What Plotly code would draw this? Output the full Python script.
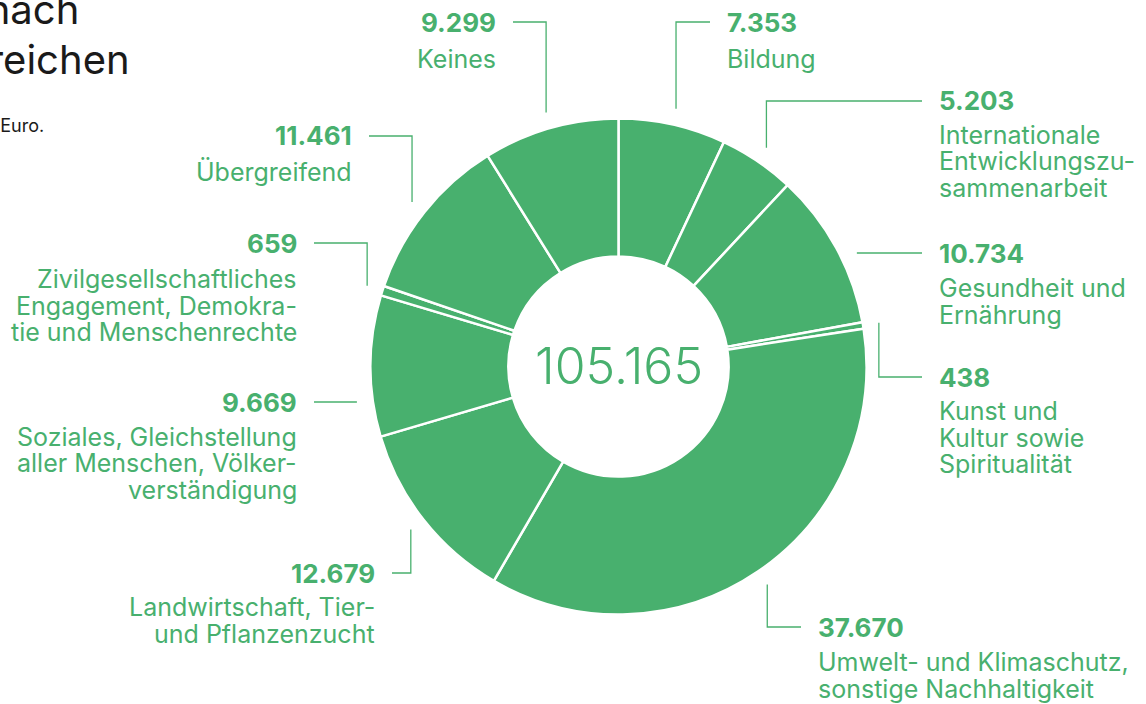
import math
import plotly.graph_objects as go

# ---------------- data ----------------
categories = [
    "Bildung",
    "Internationale Entwicklungszusammenarbeit",
    "Gesundheit und Ernährung",
    "Kunst und Kultur sowie Spiritualität",
    "Umwelt- und Klimaschutz, sonstige Nachhaltigkeit",
    "Landwirtschaft, Tier- und Pflanzenzucht",
    "Soziales, Gleichstellung aller Menschen, Völkerverständigung",
    "Zivilgesellschaftliches Engagement, Demokratie und Menschenrechte",
    "Übergreifend",
    "Keines",
]
values = [7353, 5203, 10734, 438, 37670, 12679, 9669, 659, 11461, 9299]
display_names = [
    ["Bildung"],
    ["Internationale", "Entwicklungszu-", "sammenarbeit"],
    ["Gesundheit und", "Ernährung"],
    ["Kunst und", "Kultur sowie", "Spiritualität"],
    ["Umwelt- und Klimaschutz,", "sonstige Nachhaltigkeit"],
    ["Landwirtschaft, Tier-", "und Pflanzenzucht"],
    ["Soziales, Gleichstellung", "aller Menschen, Völker-", "verständigung"],
    ["Zivilgesellschaftliches", "Engagement, Demokra-", "tie und Menschenrechte"],
    ["Übergreifend"],
    ["Keines"],
]
title_lines = ["Fördersumme nach", "Förderbereichen"]
subtitle = "Angaben in Tausend Euro."


def fmt(v):
    return f"{v:,}".replace(",", ".")


# ---------------- layout constants ----------------
W, H = 1146, 704
GREEN = "#48b06e"
DARK = "#1a1a1a"
FONT = "Inter"
CX, CY, R = 618.5, 366.5, 248.0
HOLE = 0.444
RL = 264.0      # leader start radius
GAP = 16        # gap between leader end and label
LINE_H = 26.5   # line spacing of the category names

# per-label layout: side, text x, number y, first name line y, leader type
label_layout = [
    dict(side="r", x=726, ny=22, my=59, kind="v"),
    dict(side="r", x=938, ny=101, my=135, kind="v"),
    dict(side="r", x=938, ny=253, my=288, kind="h"),
    dict(side="r", x=938, ny=377, my=411, kind="v"),
    dict(side="r", x=817, ny=627, my=662, kind="v"),
    dict(side="l", x=376, ny=573, my=607, kind="v"),
    dict(side="l", x=298, ny=402, my=437, kind="h"),
    dict(side="l", x=298, ny=243, my=279, kind="v"),
    dict(side="l", x=353, ny=136, my=172, kind="v"),
    dict(side="l", x=497, ny=22, my=59, kind="v"),
]


def px(x):
    return x / W


def py(y):
    return 1 - y / H


fig = go.Figure()
fig.add_trace(
    go.Pie(
        labels=categories,
        values=values,
        sort=False,
        direction="clockwise",
        rotation=0,
        hole=HOLE,
        textinfo="none",
        hoverinfo="label+value",
        marker=dict(colors=[GREEN] * len(values), line=dict(color="white", width=2.5)),
        domain=dict(x=[px(CX - R), px(CX + R)], y=[py(CY + R), py(CY - R)]),
        showlegend=False,
    )
)

total = sum(values)
annotations = []
shapes = []
cum = 0
for v, name_lines, lay in zip(values, display_names, label_layout):
    mid = (cum + v / 2) / total * 2 * math.pi
    cum += v
    sx = CX + RL * math.sin(mid)
    sy = CY - RL * math.cos(mid)
    if lay["side"] == "r":
        endx = lay["x"] - GAP
        xanchor = "left"
    else:
        endx = lay["x"] + GAP
        xanchor = "right"
    y = lay["ny"]
    if lay["kind"] == "v":
        path = f"M {px(sx)},{py(sy)} L {px(sx)},{py(y)} L {px(endx)},{py(y)}"
    else:
        dx = math.sqrt(max(RL ** 2 - (y - CY) ** 2, 0))
        startx = CX + dx if lay["side"] == "r" else CX - dx
        path = f"M {px(startx)},{py(y)} L {px(endx)},{py(y)}"
    shapes.append(
        dict(type="path", path=path, xref="paper", yref="paper",
             line=dict(color=GREEN, width=1.3))
    )
    annotations.append(
        dict(text=f"<b>{fmt(v)}</b>", x=px(lay["x"]), y=py(y), xref="paper", yref="paper",
             xanchor=xanchor, yanchor="middle", showarrow=False, borderpad=0,
             font=dict(family=FONT, size=26, color=GREEN))
    )
    for i, line in enumerate(name_lines):
        annotations.append(
            dict(text=line, x=px(lay["x"]), y=py(lay["my"] + i * LINE_H),
                 xref="paper", yref="paper", xanchor=xanchor, yanchor="middle",
                 showarrow=False, borderpad=0,
                 font=dict(family=FONT, size=25, color=GREEN))
        )

# centre total
annotations.append(
    dict(text=fmt(total), x=px(CX), y=py(CY - 1), xref="paper", yref="paper",
         xanchor="center", yanchor="middle", showarrow=False,
         font=dict(family=FONT, size=50, color=GREEN, weight=300))
)

# title (partly cut off at the left edge, as in the reference)
annotations.append(
    dict(text=title_lines[0], x=px(81), y=py(9), xref="paper", yref="paper",
         xanchor="right", yanchor="middle", showarrow=False,
         font=dict(family=FONT, size=40, color=DARK))
)
annotations.append(
    dict(text=title_lines[1], x=px(132), y=py(60), xref="paper", yref="paper",
         xanchor="right", yanchor="middle", showarrow=False,
         font=dict(family=FONT, size=40, color=DARK))
)
annotations.append(
    dict(text=subtitle, x=px(46), y=py(126), xref="paper", yref="paper",
         xanchor="right", yanchor="middle", showarrow=False,
         font=dict(family=FONT, size=18, color=DARK))
)

fig.update_layout(
    width=W,
    height=H,
    margin=dict(l=0, r=0, t=0, b=0),
    paper_bgcolor="white",
    plot_bgcolor="white",
    annotations=annotations,
    shapes=shapes,
)

fig.write_html("out.html", config={"displayModeBar": False},
               post_script="document.body.style.margin='0';")
